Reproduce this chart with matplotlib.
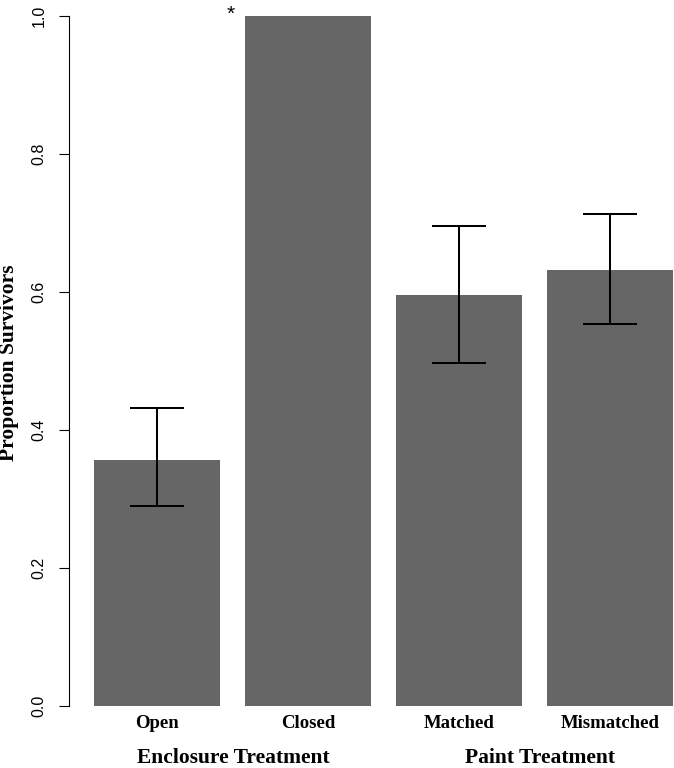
import numpy as np
import matplotlib
matplotlib.use("Agg")
import matplotlib.pyplot as plt

# survival proportions with error bar limits
treatments = ["Open", "Closed", "Matched", "Mismatched"]
proportion = [0.357, 1.0, 0.595, 0.631]
err_upper = [0.432, np.nan, 0.696, 0.712]
err_lower = [0.289, np.nan, 0.497, 0.553]
groups = ["Enclosure Treatment", "Paint Treatment"]
group_x = [1.308, 3.745]
yticks = [0.0, 0.2, 0.4, 0.6, 0.8, 1.0]

serif = ["Liberation Serif", "DejaVu Serif"]
sans = ["Liberation Sans", "DejaVu Sans"]

fig = plt.figure(figsize=(6.74, 7.68), dpi=100)
ax = fig.add_axes([69.2 / 674, 34.4 / 768, 603.8 / 674, 733.6 / 768])

# R barplot layout: width 1, space 0.2
x = 0.7 + 1.2 * np.arange(len(treatments))
ax.bar(x, proportion, width=1.0, color="#666666", edgecolor="none", zorder=1)

prop = np.array(proportion)
up = np.array(err_upper)
lo = np.array(err_lower)
ok = ~np.isnan(up)
ax.errorbar(x[ok], prop[ok], yerr=[prop[ok] - lo[ok], up[ok] - prop[ok]],
            fmt="none", ecolor="black", elinewidth=1.45, capsize=19.5,
            capthick=1.45, zorder=3)

ax.set_xlim(0, 4.8)
ax.set_ylim(-0.04, 1.0227)

for s in ["top", "right", "bottom"]:
    ax.spines[s].set_visible(False)
ax.spines["left"].set_bounds(0, 1)
ax.spines["left"].set_linewidth(0.8)

ax.set_xticks([])
ax.set_yticks(yticks)
ax.set_yticklabels([f"{v:.1f}" for v in yticks], rotation=90, va="center",
                   family=sans, fontsize=11.5)
ax.tick_params(axis="y", length=7.2, width=0.8, pad=9)

for xi, name in zip(x, treatments):
    ax.text(xi, -0.0319, name, ha="center", va="baseline", family=serif,
            fontweight="bold", fontsize=13.5, clip_on=False)

for gx, g in zip(group_x, groups):
    ax.text(gx, -0.083, g, ha="center", va="baseline", family=serif,
            fontweight="bold", fontsize=15.5, clip_on=False)

# significance marker above the closed enclosure bar
ax.text(1.284, 0.9935, "*", ha="center", va="baseline", family=sans,
        fontsize=15, clip_on=False)

fig.text(9 / 674, 1 - 362.5 / 768, "Proportion Survivors", rotation=90,
         ha="center", va="center", family=serif, fontweight="bold",
         fontsize=15.5)

fig.savefig("out.png", dpi=100)
